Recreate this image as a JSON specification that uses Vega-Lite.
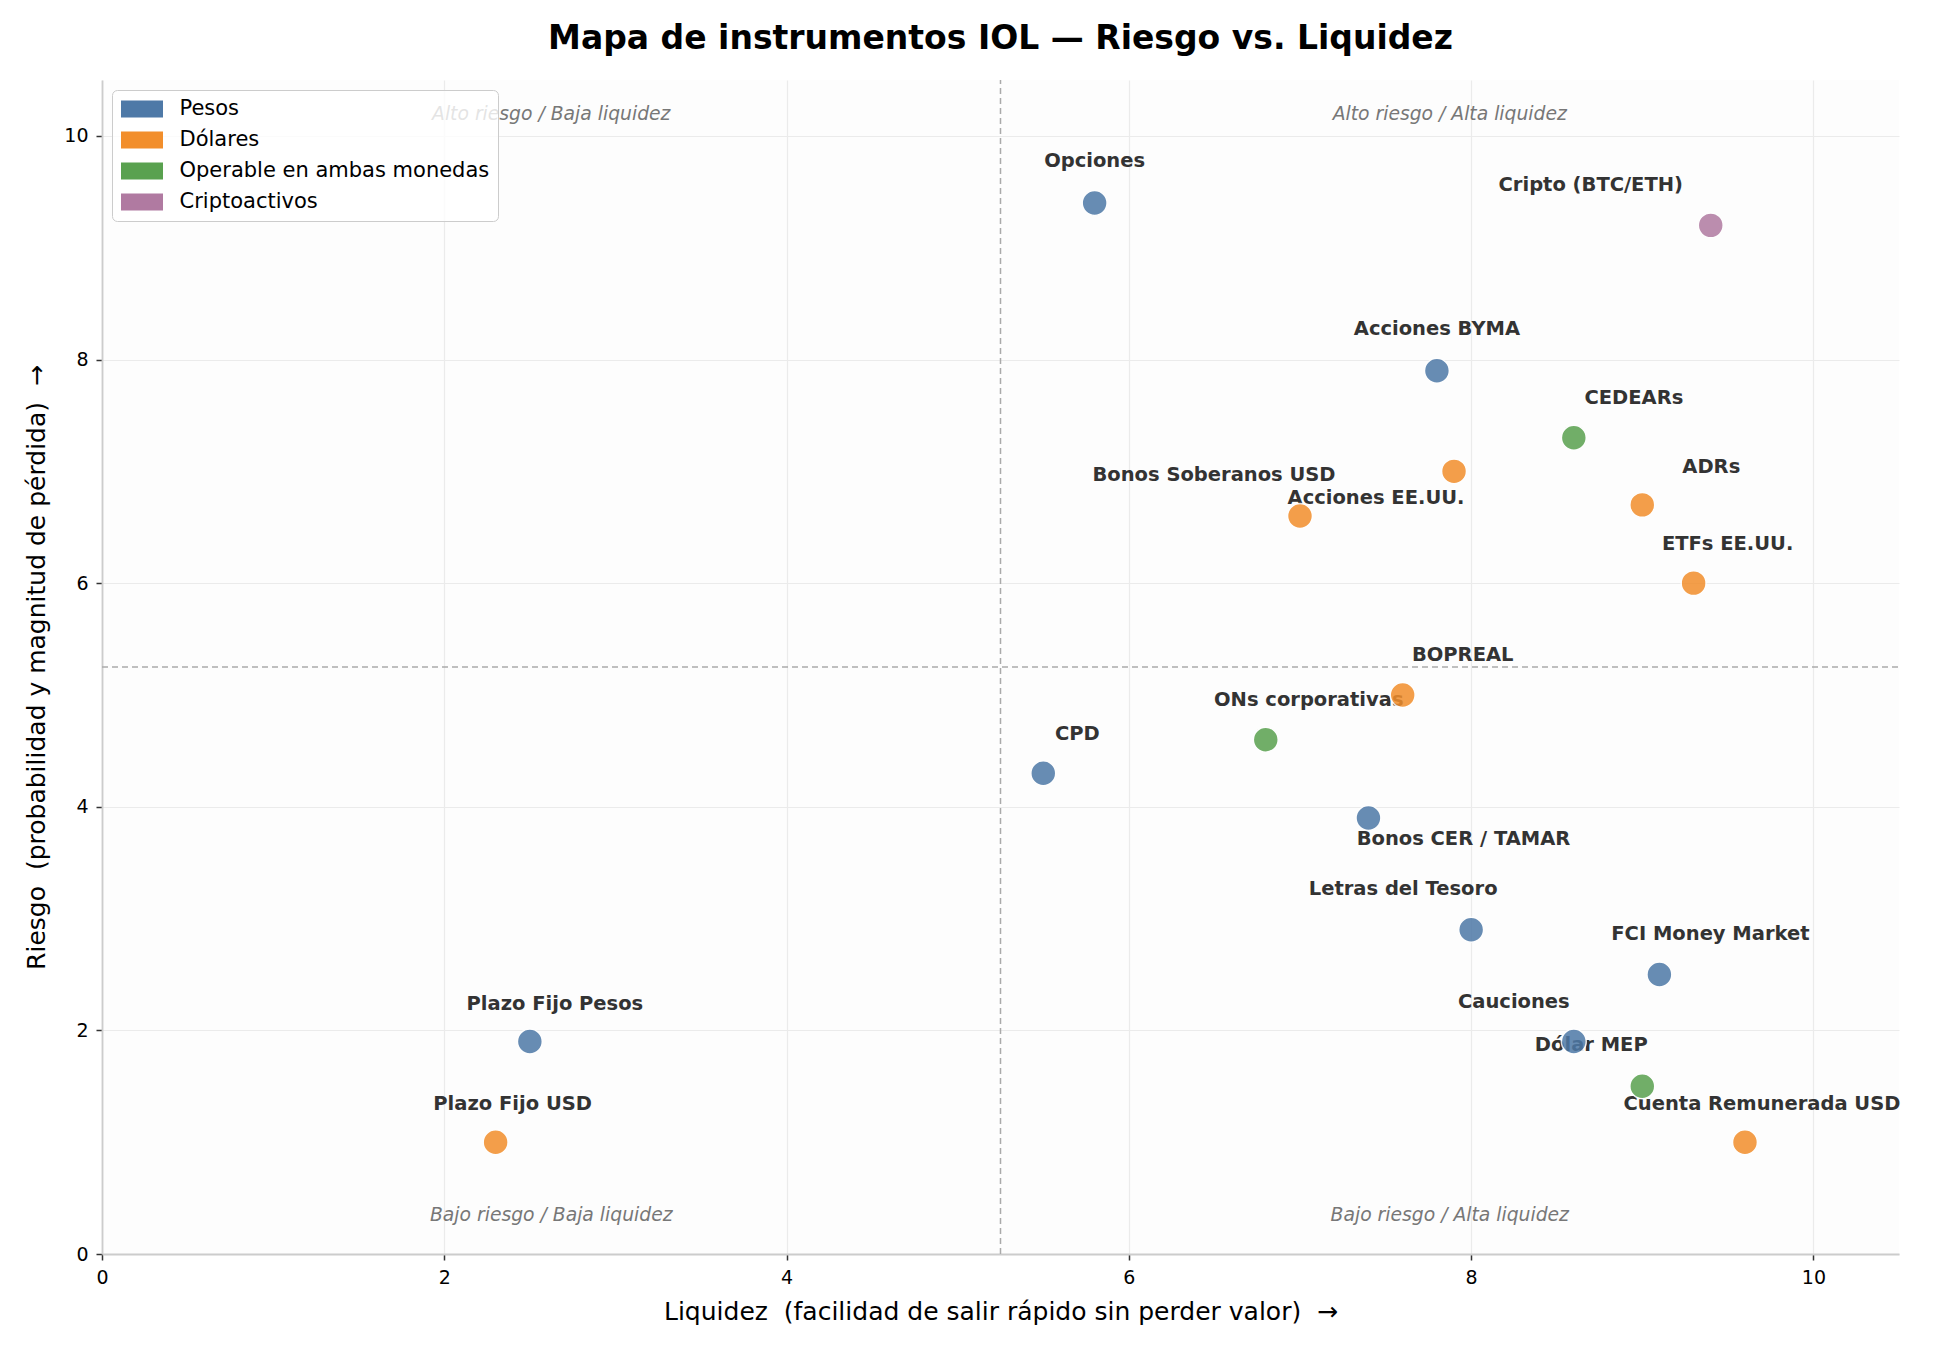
{
  "$schema": "https://vega.github.io/schema/vega-lite/v6.json",
  "width": 1797,
  "height": 1174,
  "autosize": {"type": "none"},
  "padding": {"left": 102, "top": 80, "right": 51, "bottom": 96},
  "background": "white",
  "title": {
    "text": "Mapa de instrumentos IOL — Riesgo vs. Liquidez",
    "fontSize": 33,
    "font": "DejaVu Sans",
    "fontWeight": "bold",
    "color": "#000000",
    "anchor": "middle",
    "baseline": "bottom",
    "offset": -10
  },
  "config": {
    "font": "DejaVu Sans",
    "view": {"fill": "#fdfdfd", "stroke": null},
    "axis": {
      "domainColor": "#cccccc",
      "domainWidth": 1.8,
      "tickColor": "#333333",
      "tickSize": 6,
      "tickWidth": 1.5,
      "labelFontSize": 19,
      "labelColor": "#000000",
      "labelPadding": 8,
      "labelFlush": false,
      "gridColor": "#ebebeb",
      "gridWidth": 1.2,
      "titleFontSize": 25,
      "titleFontWeight": "normal",
      "titleColor": "#000000"
    }
  },
  "datasets": {
    "inst": [
      {"nombre": "Opciones", "liquidez": 5.8, "riesgo": 9.4, "moneda": "Pesos"},
      {"nombre": "Cripto (BTC/ETH)", "liquidez": 9.4, "riesgo": 9.2, "moneda": "Criptoactivos"},
      {"nombre": "Acciones BYMA", "liquidez": 7.8, "riesgo": 7.9, "moneda": "Pesos"},
      {"nombre": "CEDEARs", "liquidez": 8.6, "riesgo": 7.3, "moneda": "Operable en ambas monedas"},
      {"nombre": "Acciones EE.UU.", "liquidez": 7.9, "riesgo": 7.0, "moneda": "Dólares"},
      {"nombre": "Bonos Soberanos USD", "liquidez": 7.0, "riesgo": 6.6, "moneda": "Dólares"},
      {"nombre": "ADRs", "liquidez": 9.0, "riesgo": 6.7, "moneda": "Dólares"},
      {"nombre": "ETFs EE.UU.", "liquidez": 9.3, "riesgo": 6.0, "moneda": "Dólares"},
      {"nombre": "BOPREAL", "liquidez": 7.6, "riesgo": 5.0, "moneda": "Dólares"},
      {"nombre": "ONs corporativas", "liquidez": 6.8, "riesgo": 4.6, "moneda": "Operable en ambas monedas"},
      {"nombre": "CPD", "liquidez": 5.5, "riesgo": 4.3, "moneda": "Pesos"},
      {"nombre": "Bonos CER / TAMAR", "liquidez": 7.4, "riesgo": 3.9, "moneda": "Pesos"},
      {"nombre": "Letras del Tesoro", "liquidez": 8.0, "riesgo": 2.9, "moneda": "Pesos"},
      {"nombre": "FCI Money Market", "liquidez": 9.1, "riesgo": 2.5, "moneda": "Pesos"},
      {"nombre": "Cauciones", "liquidez": 8.6, "riesgo": 1.9, "moneda": "Pesos"},
      {"nombre": "Dólar MEP", "liquidez": 9.0, "riesgo": 1.5, "moneda": "Operable en ambas monedas"},
      {"nombre": "Cuenta Remunerada USD", "liquidez": 9.6, "riesgo": 1.0, "moneda": "Dólares"},
      {"nombre": "Plazo Fijo Pesos", "liquidez": 2.5, "riesgo": 1.9, "moneda": "Pesos"},
      {"nombre": "Plazo Fijo USD", "liquidez": 2.3, "riesgo": 1.0, "moneda": "Dólares"}
    ],
    "cuadrantes": [
      {"texto": "Alto riesgo / Baja liquidez", "liquidez": 2.625, "riesgo": 10.2},
      {"texto": "Alto riesgo / Alta liquidez", "liquidez": 7.875, "riesgo": 10.2},
      {"texto": "Bajo riesgo / Baja liquidez", "liquidez": 2.625, "riesgo": 0.35},
      {"texto": "Bajo riesgo / Alta liquidez", "liquidez": 7.875, "riesgo": 0.35}
    ],
    "divisor_v": [{"liquidez": 5.25, "riesgo": 0, "riesgo_fin": 10.5}],
    "divisor_h": [{"liquidez": 0, "liquidez_fin": 10.5, "riesgo": 5.25}]
  },
  "encoding": {
    "x": {
      "field": "liquidez",
      "type": "quantitative",
      "scale": {"domain": [0, 10.5], "nice": false, "zero": false},
      "axis": {
        "values": [0, 2, 4, 6, 8, 10],
        "title": "Liquidez \u00a0(facilidad de salir rápido sin perder valor) \u00a0→",
        "titlePadding": 12
      }
    },
    "y": {
      "field": "riesgo",
      "type": "quantitative",
      "scale": {"domain": [0, 10.5], "nice": false, "zero": false},
      "axis": {
        "values": [0, 2, 4, 6, 8, 10],
        "title": "Riesgo \u00a0(probabilidad y magnitud de pérdida) \u00a0→",
        "titlePadding": 14
      }
    }
  },
  "layer": [
    {
      "data": {"name": "divisor_v"},
      "mark": {"type": "rule", "color": "#aaaaaa", "strokeDash": [6, 4], "strokeWidth": 1.5},
      "encoding": {"y2": {"field": "riesgo_fin"}}
    },
    {
      "data": {"name": "divisor_h"},
      "mark": {"type": "rule", "color": "#aaaaaa", "strokeDash": [6, 4], "strokeWidth": 1.5},
      "encoding": {"x2": {"field": "liquidez_fin"}}
    },
    {
      "data": {"name": "cuadrantes"},
      "mark": {"type": "text", "fontStyle": "italic", "fontSize": 18.75, "color": "#777777", "align": "center", "baseline": "middle"},
      "encoding": {"text": {"field": "texto"}}
    },
    {
      "data": {"name": "inst"},
      "transform": [{"filter": {"field": "nombre", "oneOf": ["Opciones", "Acciones BYMA"]}}],
      "mark": {"type": "text", "fontWeight": "bold", "fontSize": 19.5, "color": "#333333", "align": "center", "baseline": "middle", "dx": 0, "dy": -42},
      "encoding": {"text": {"field": "nombre"}}
    },
    {
      "data": {"name": "inst"},
      "transform": [{"filter": {"field": "nombre", "oneOf": ["Cuenta Remunerada USD", "Plazo Fijo USD"]}}],
      "mark": {"type": "text", "fontWeight": "bold", "fontSize": 19.5, "color": "#333333", "align": "center", "baseline": "middle", "dx": 17, "dy": -38},
      "encoding": {"text": {"field": "nombre"}}
    },
    {
      "data": {"name": "inst"},
      "transform": [{"filter": {"field": "nombre", "oneOf": ["Plazo Fijo Pesos"]}}],
      "mark": {"type": "text", "fontWeight": "bold", "fontSize": 19.5, "color": "#333333", "align": "center", "baseline": "middle", "dx": 25, "dy": -38},
      "encoding": {"text": {"field": "nombre"}}
    },
    {
      "data": {"name": "inst"},
      "transform": [{"filter": {"field": "nombre", "oneOf": ["ETFs EE.UU.", "CPD"]}}],
      "mark": {"type": "text", "fontWeight": "bold", "fontSize": 19.5, "color": "#333333", "align": "center", "baseline": "middle", "dx": 34, "dy": -39},
      "encoding": {"text": {"field": "nombre"}}
    },
    {
      "data": {"name": "inst"},
      "transform": [{"filter": {"field": "nombre", "oneOf": ["ONs corporativas"]}}],
      "mark": {"type": "text", "fontWeight": "bold", "fontSize": 19.5, "color": "#333333", "align": "center", "baseline": "middle", "dx": 43, "dy": -40},
      "encoding": {"text": {"field": "nombre"}}
    },
    {
      "data": {"name": "inst"},
      "transform": [{"filter": {"field": "nombre", "oneOf": ["FCI Money Market"]}}],
      "mark": {"type": "text", "fontWeight": "bold", "fontSize": 19.5, "color": "#333333", "align": "center", "baseline": "middle", "dx": 51, "dy": -40},
      "encoding": {"text": {"field": "nombre"}}
    },
    {
      "data": {"name": "inst"},
      "transform": [{"filter": {"field": "nombre", "oneOf": ["CEDEARs", "BOPREAL"]}}],
      "mark": {"type": "text", "fontWeight": "bold", "fontSize": 19.5, "color": "#333333", "align": "center", "baseline": "middle", "dx": 60, "dy": -40},
      "encoding": {"text": {"field": "nombre"}}
    },
    {
      "data": {"name": "inst"},
      "transform": [{"filter": {"field": "nombre", "oneOf": ["ADRs"]}}],
      "mark": {"type": "text", "fontWeight": "bold", "fontSize": 19.5, "color": "#333333", "align": "center", "baseline": "middle", "dx": 69, "dy": -38},
      "encoding": {"text": {"field": "nombre"}}
    },
    {
      "data": {"name": "inst"},
      "transform": [{"filter": {"field": "nombre", "oneOf": ["Dólar MEP"]}}],
      "mark": {"type": "text", "fontWeight": "bold", "fontSize": 19.5, "color": "#333333", "align": "center", "baseline": "middle", "dx": -51, "dy": -41},
      "encoding": {"text": {"field": "nombre"}}
    },
    {
      "data": {"name": "inst"},
      "transform": [{"filter": {"field": "nombre", "oneOf": ["Cauciones"]}}],
      "mark": {"type": "text", "fontWeight": "bold", "fontSize": 19.5, "color": "#333333", "align": "center", "baseline": "middle", "dx": -60, "dy": -40},
      "encoding": {"text": {"field": "nombre"}}
    },
    {
      "data": {"name": "inst"},
      "transform": [{"filter": {"field": "nombre", "oneOf": ["Letras del Tesoro"]}}],
      "mark": {"type": "text", "fontWeight": "bold", "fontSize": 19.5, "color": "#333333", "align": "center", "baseline": "middle", "dx": -68, "dy": -41},
      "encoding": {"text": {"field": "nombre"}}
    },
    {
      "data": {"name": "inst"},
      "transform": [{"filter": {"field": "nombre", "oneOf": ["Bonos Soberanos USD"]}}],
      "mark": {"type": "text", "fontWeight": "bold", "fontSize": 19.5, "color": "#333333", "align": "center", "baseline": "middle", "dx": -86, "dy": -41},
      "encoding": {"text": {"field": "nombre"}}
    },
    {
      "data": {"name": "inst"},
      "transform": [{"filter": {"field": "nombre", "oneOf": ["Acciones EE.UU."]}}],
      "mark": {"type": "text", "fontWeight": "bold", "fontSize": 19.5, "color": "#333333", "align": "center", "baseline": "middle", "dx": -78, "dy": 27},
      "encoding": {"text": {"field": "nombre"}}
    },
    {
      "data": {"name": "inst"},
      "transform": [{"filter": {"field": "nombre", "oneOf": ["Cripto (BTC/ETH)"]}}],
      "mark": {"type": "text", "fontWeight": "bold", "fontSize": 19.5, "color": "#333333", "align": "center", "baseline": "middle", "dx": -120, "dy": -40},
      "encoding": {"text": {"field": "nombre"}}
    },
    {
      "data": {"name": "inst"},
      "transform": [{"filter": {"field": "nombre", "oneOf": ["Bonos CER / TAMAR"]}}],
      "mark": {"type": "text", "fontWeight": "bold", "fontSize": 19.5, "color": "#333333", "align": "center", "baseline": "middle", "dx": 95, "dy": 21},
      "encoding": {"text": {"field": "nombre"}}
    },
    {
      "data": {"name": "inst"},
      "mark": {"type": "point", "filled": true, "size": 620, "opacity": 0.85, "stroke": "white", "strokeWidth": 1.5},
      "encoding": {
        "color": {
          "field": "moneda",
          "type": "nominal",
          "scale": {
            "domain": ["Pesos", "Dólares", "Operable en ambas monedas", "Criptoactivos"],
            "range": ["#4e79a7", "#f28e2b", "#59a14f", "#b07aa1"]
          },
          "legend": {
            "orient": "top-left",
            "direction": "vertical",
            "offset": 10,
            "title": null,
            "symbolType": "M-2.1,-0.85L2.1,-0.85L2.1,0.85L-2.1,0.85Z",
            "symbolSize": 400,
            "symbolOffset": 11,
            "symbolOpacity": 1,
            "symbolStrokeWidth": 0,
            "labelFontSize": 21,
            "labelLimit": 600,
            "labelColor": "#000000",
            "labelOffset": 27,
            "fillColor": "rgba(255,255,255,0.8)",
            "strokeColor": "#cccccc",
            "cornerRadius": 5,
            "padding": 8.5,
            "rowPadding": 9
          }
        }
      }
    }
  ]
}
